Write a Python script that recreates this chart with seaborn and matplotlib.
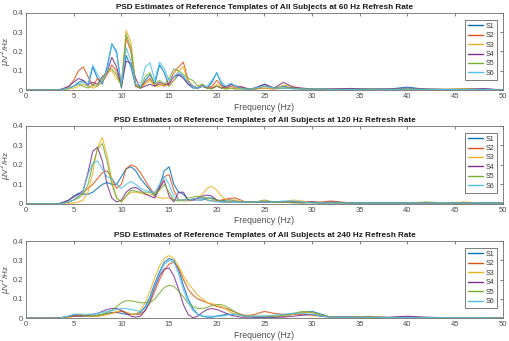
import numpy as np
import pandas as pd
import matplotlib
matplotlib.use("Agg")
import matplotlib.pyplot as plt
from matplotlib.lines import Line2D
import seaborn as sns

# ---------------------------------------------------
# Data
# ---------------------------------------------------
freq = [0, 3.0, 3.5, 4.0, 4.5, 5.0, 5.5, 6.0, 6.5, 7.0, 7.5, 8.0, 8.5, 9.0, 9.5,
        10.0, 10.5, 11.0, 11.5, 12.0, 12.5, 13.0, 13.5, 14.0, 14.5, 15.0, 15.5,
        16.0, 16.5, 17.0, 17.5, 18.0, 18.5, 19.0, 19.5, 20.0, 20.5, 21.0, 21.5,
        22.0, 22.5, 23.0, 23.5, 24.0, 25, 26, 27, 28, 29, 30, 31, 32, 34, 36, 38,
        40, 42, 44, 46, 48, 50]

subjects = ["S1", "S2", "S3", "S4", "S5", "S6"]
colors = ["#0072BD", "#D95319", "#EDB120", "#7E2F8E", "#77AC30", "#4DBEEE"]
refresh_rates = [60, 120, 240]
y_ticks = [0, 0.1, 0.2, 0.3, 0.4]
y_tick_labels = ["0", "0.1", "0.2", "0.3", "0.4"]
x_ticks = [0, 5, 10, 15, 20, 25, 30, 35, 40, 45, 50]

# 60 Hz refresh rate
s1_60 = [0, 0, 0, 0.005, 0.01, 0.02, 0.04, 0.05, 0.02, 0.12, 0.06, 0.03, 0.12, 0.24, 0.2,
         0.01, 0.18, 0.12, 0.02, 0.01, 0.05, 0.08, 0.03, 0.13, 0.09, 0.02, 0.05,
         0.08, 0.07, 0.03, 0.01, 0.01, 0.02, 0.01, 0.04, 0.09, 0.03, 0.01, 0.03,
         0.02, 0.01, 0.005, 0.005, 0.01, 0.03, 0.01, 0.02, 0.01, 0.005, 0.005, 0.005, 0.005, 0.005, 0.005, 0.005,
         0.015, 0.003, 0.002, 0.002, 0.005, 0]
s2_60 = [0, 0, 0, 0.005, 0.02, 0.05, 0.1, 0.12, 0.07, 0.02, 0.06, 0.04, 0.08, 0.13, 0.1,
         0.02, 0.27, 0.2, 0.02, 0.01, 0.04, 0.06, 0.02, 0.03, 0.02, 0.04, 0.09,
         0.12, 0.145, 0.05, 0.02, 0.01, 0.03, 0.01, 0.02, 0.05, 0.02, 0.01, 0.02,
         0.01, 0.02, 0.01, 0.005, 0.005, 0.01, 0.005, 0.01, 0.01, 0.005, 0.005, 0.005, 0.005, 0.008, 0.005, 0.005,
         0.005, 0.005, 0.003, 0.005, 0.003, 0]
s3_60 = [0, 0, 0, 0, 0.005, 0.01, 0.02, 0.03, 0.02, 0.01, 0.02, 0.05, 0.09, 0.1, 0.06,
         0.03, 0.31, 0.25, 0.03, 0.01, 0.03, 0.05, 0.02, 0.02, 0.03, 0.02, 0.05,
         0.1, 0.12, 0.04, 0.02, 0.01, 0.02, 0.01, 0.01, 0.03, 0.01, 0.005, 0.01,
         0.005, 0.01, 0.005, 0.005, 0.01, 0.01, 0.005, 0.025, 0.02, 0.005, 0.005, 0.003, 0.005, 0.003, 0.005, 0.003,
         0.003, 0.003, 0.003, 0.008, 0.003, 0]
s4_60 = [0, 0, 0.002, 0.01, 0.02, 0.04, 0.06, 0.05, 0.03, 0.04, 0.03, 0.07, 0.09, 0.17, 0.12,
         0.02, 0.15, 0.14, 0.06, 0.01, 0.02, 0.03, 0.02, 0.04, 0.03, 0.03, 0.07,
         0.08, 0.06, 0.03, 0.02, 0.01, 0.02, 0.01, 0.01, 0.02, 0.01, 0.02, 0.03,
         0.02, 0.015, 0.01, 0.005, 0.01, 0.03, 0.01, 0.04, 0.015, 0.01, 0.005, 0.005, 0.005, 0.008, 0.005, 0.005,
         0.01, 0.005, 0.003, 0.003, 0.008, 0]
s5_60 = [0, 0, 0, 0.005, 0.01, 0.02, 0.03, 0.02, 0.01, 0.03, 0.02, 0.06, 0.1, 0.11, 0.08,
         0.02, 0.29, 0.22, 0.03, 0.01, 0.07, 0.09, 0.03, 0.05, 0.03, 0.06, 0.11,
         0.1, 0.08, 0.06, 0.05, 0.02, 0.03, 0.01, 0.005, 0.02, 0.01, 0.005, 0.01,
         0.005, 0.005, 0.005, 0.005, 0.005, 0.02, 0.01, 0.01, 0.01, 0.005, 0.005, 0.005, 0.003, 0.003, 0.003, 0.003,
         0.005, 0.003, 0.003, 0.003, 0.003, 0]
s6_60 = [0, 0, 0, 0.005, 0.01, 0.02, 0.03, 0.04, 0.03, 0.13, 0.08, 0.04, 0.1, 0.24, 0.19,
         0.03, 0.22, 0.15, 0.03, 0.02, 0.12, 0.14, 0.05, 0.145, 0.11, 0.05, 0.07,
         0.09, 0.07, 0.04, 0.02, 0.01, 0.02, 0.02, 0.05, 0.09, 0.04, 0.02, 0.035,
         0.02, 0.01, 0.005, 0.005, 0.01, 0.02, 0.01, 0.01, 0.005, 0.005, 0.005, 0.005, 0.003, 0.003, 0.005, 0.003,
         0.005, 0.003, 0.003, 0.003, 0.003, 0]

# 120 Hz refresh rate
s1_120 = [0, 0, 0.002, 0.01, 0.02, 0.04, 0.055, 0.05, 0.05, 0.06, 0.08, 0.1, 0.11, 0.1, 0.1,
          0.14, 0.18, 0.19, 0.17, 0.13, 0.1, 0.07, 0.04, 0.09, 0.17, 0.19, 0.1,
          0.06, 0.05, 0.02, 0.02, 0.02, 0.02, 0.03, 0.03, 0.02, 0.015, 0.02, 0.02,
          0.015, 0.01, 0.01, 0.01, 0.01, 0.01, 0.01, 0.01, 0.01, 0.01, 0.01, 0.005, 0.005, 0.005, 0.005, 0.005,
          0.005, 0.005, 0.005, 0.005, 0.005, 0.005]
s2_120 = [0, 0, 0, 0.005, 0.01, 0.02, 0.04, 0.06, 0.08, 0.1, 0.13, 0.16, 0.17, 0.13, 0.08,
          0.1, 0.18, 0.2, 0.19, 0.16, 0.12, 0.08, 0.05, 0.08, 0.14, 0.15, 0.07,
          0.02, 0.02, 0.02, 0.025, 0.03, 0.03, 0.02, 0.015, 0.015, 0.02, 0.025, 0.03,
          0.03, 0.02, 0.01, 0.01, 0.01, 0.01, 0.01, 0.01, 0.01, 0.01, 0.01, 0.01, 0.015, 0.005, 0.005, 0.005,
          0.005, 0.005, 0.005, 0.005, 0.005, 0.005]
s3_120 = [0, 0, 0, 0, 0.002, 0.005, 0.01, 0.02, 0.06, 0.16, 0.29, 0.34, 0.25, 0.12, 0.03,
          0.01, 0.04, 0.06, 0.06, 0.055, 0.05, 0.05, 0.04, 0.03, 0.03, 0.03, 0.02,
          0.02, 0.015, 0.015, 0.02, 0.03, 0.05, 0.08, 0.09, 0.07, 0.04, 0.02, 0.02,
          0.02, 0.015, 0.01, 0.01, 0.01, 0.015, 0.01, 0.01, 0.02, 0.015, 0.005, 0.005, 0.005, 0.005, 0.005, 0.005,
          0.005, 0.005, 0.005, 0.01, 0.005, 0.005]
s4_120 = [0, 0, 0.002, 0.01, 0.02, 0.035, 0.05, 0.07, 0.16, 0.27, 0.29, 0.22, 0.1, 0.03, 0.01,
          0.02, 0.06, 0.08, 0.085, 0.07, 0.05, 0.04, 0.03, 0.08, 0.12, 0.04, 0.01,
          0.06, 0.06, 0.02, 0.02, 0.03, 0.04, 0.045, 0.04, 0.02, 0.01, 0.01, 0.01,
          0.01, 0.01, 0.01, 0.01, 0.01, 0.01, 0.01, 0.01, 0.01, 0.005, 0.01, 0.005, 0.01, 0.005, 0.005, 0.005,
          0.005, 0.005, 0.005, 0.005, 0.005, 0.005]
s5_120 = [0, 0, 0, 0.005, 0.01, 0.02, 0.03, 0.05, 0.1, 0.2, 0.28, 0.31, 0.22, 0.1, 0.03,
          0.01, 0.04, 0.07, 0.065, 0.06, 0.06, 0.06, 0.05, 0.07, 0.1, 0.06, 0.02,
          0.015, 0.02, 0.03, 0.035, 0.04, 0.035, 0.03, 0.025, 0.02, 0.015, 0.01, 0.01,
          0.01, 0.01, 0.01, 0.01, 0.01, 0.02, 0.01, 0.01, 0.005, 0.005, 0.005, 0.005, 0.005, 0.005, 0.005, 0.005,
          0.005, 0.01, 0.005, 0.005, 0.005, 0.005]
s6_120 = [0, 0, 0, 0.005, 0.01, 0.02, 0.04, 0.07, 0.15, 0.21, 0.22, 0.18, 0.14, 0.13, 0.1,
          0.08, 0.1, 0.115, 0.1, 0.08, 0.07, 0.06, 0.06, 0.1, 0.14, 0.1, 0.04,
          0.02, 0.02, 0.02, 0.025, 0.03, 0.03, 0.02, 0.015, 0.01, 0.01, 0.01, 0.01,
          0.01, 0.01, 0.01, 0.01, 0.01, 0.01, 0.01, 0.015, 0.015, 0.01, 0.005, 0.005, 0.005, 0.005, 0.005, 0.005,
          0.005, 0.005, 0.005, 0.005, 0.005, 0.005]

# 240 Hz refresh rate
s1_240 = [0, 0, 0, 0.005, 0.01, 0.015, 0.015, 0.01, 0.01, 0.01, 0.015, 0.02, 0.025, 0.03, 0.03,
          0.025, 0.02, 0.02, 0.02, 0.03, 0.06, 0.11, 0.18, 0.24, 0.29, 0.31, 0.3,
          0.25, 0.17, 0.1, 0.05, 0.02, 0.01, 0.005, 0.005, 0.01, 0.015, 0.02, 0.02,
          0.02, 0.015, 0.01, 0.01, 0.005, 0.005, 0.005, 0.01, 0.02, 0.03, 0.035, 0.02, 0.005, 0.005, 0.005, 0.003,
          0.005, 0.003, 0.002, 0.002, 0.002, 0]
s2_240 = [0, 0, 0, 0.002, 0.005, 0.01, 0.015, 0.015, 0.01, 0.01, 0.01, 0.015, 0.02, 0.025, 0.03,
          0.035, 0.03, 0.02, 0.02, 0.02, 0.04, 0.08, 0.14, 0.2, 0.25, 0.28, 0.29,
          0.26, 0.2, 0.15, 0.12, 0.1, 0.09, 0.08, 0.07, 0.06, 0.055, 0.05, 0.04,
          0.03, 0.02, 0.015, 0.015, 0.02, 0.035, 0.025, 0.02, 0.02, 0.02, 0.015, 0.01, 0.005, 0.005, 0.005, 0.003,
          0.005, 0.003, 0.002, 0.002, 0.002, 0]
s3_240 = [0, 0, 0, 0.002, 0.005, 0.01, 0.01, 0.01, 0.01, 0.01, 0.01, 0.015, 0.02, 0.025, 0.035,
          0.04, 0.03, 0.02, 0.02, 0.04, 0.08, 0.14, 0.21, 0.27, 0.31, 0.325, 0.31,
          0.27, 0.22, 0.18, 0.15, 0.12, 0.1, 0.08, 0.075, 0.07, 0.06, 0.045, 0.03,
          0.02, 0.015, 0.01, 0.01, 0.01, 0.01, 0.01, 0.01, 0.02, 0.03, 0.03, 0.015, 0.005, 0.005, 0.01, 0.003,
          0.003, 0.003, 0.002, 0.002, 0.002, 0]
s4_240 = [0, 0, 0.002, 0.005, 0.01, 0.01, 0.01, 0.01, 0.015, 0.02, 0.025, 0.035, 0.045, 0.05, 0.05,
          0.04, 0.025, 0.01, 0.005, 0.01, 0.04, 0.09, 0.16, 0.22, 0.255, 0.26, 0.22,
          0.15, 0.07, 0.02, 0.002, 0.01, 0.03, 0.045, 0.05, 0.045, 0.035, 0.025, 0.015,
          0.01, 0.005, 0.005, 0.005, 0.005, 0.005, 0.005, 0.005, 0.01, 0.015, 0.02, 0.01, 0.005, 0.005, 0.005, 0.005,
          0.01, 0.005, 0.002, 0.002, 0.002, 0]
s5_240 = [0, 0, 0, 0.005, 0.01, 0.02, 0.02, 0.015, 0.01, 0.01, 0.015, 0.02, 0.03, 0.04, 0.06,
          0.08, 0.09, 0.09, 0.085, 0.08, 0.08, 0.08, 0.1, 0.13, 0.16, 0.17, 0.165,
          0.14, 0.11, 0.08, 0.06, 0.05, 0.05, 0.055, 0.065, 0.07, 0.07, 0.06, 0.045,
          0.03, 0.02, 0.01, 0.01, 0.01, 0.01, 0.01, 0.015, 0.025, 0.035, 0.03, 0.015, 0.005, 0.005, 0.005, 0.003,
          0.003, 0.003, 0.002, 0.002, 0.002, 0]
s6_240 = [0, 0, 0, 0.005, 0.01, 0.02, 0.02, 0.02, 0.02, 0.02, 0.025, 0.03, 0.035, 0.04, 0.045,
          0.05, 0.05, 0.045, 0.04, 0.035, 0.05, 0.1, 0.17, 0.23, 0.28, 0.3, 0.29,
          0.23, 0.15, 0.08, 0.04, 0.02, 0.01, 0.01, 0.01, 0.01, 0.01, 0.015, 0.02,
          0.02, 0.015, 0.01, 0.01, 0.01, 0.01, 0.015, 0.02, 0.025, 0.025, 0.02, 0.01, 0.005, 0.005, 0.005, 0.003,
          0.003, 0.003, 0.002, 0.002, 0.002, 0]

psd_by_rate = {
    60: [s1_60, s2_60, s3_60, s4_60, s5_60, s6_60],
    120: [s1_120, s2_120, s3_120, s4_120, s5_120, s6_120],
    240: [s1_240, s2_240, s3_240, s4_240, s5_240, s6_240],
}

# ---------------------------------------------------
# Plot
# ---------------------------------------------------
sns.set_theme(style="white")
plt.rcParams['font.family'] = ['Liberation Sans', 'DejaVu Sans']

fig = plt.figure(figsize=(5.1, 3.41), dpi=100)
positions = [
    [0.051, 0.736, 0.935, 0.226],
    [0.051, 0.402, 0.935, 0.229],
    [0.051, 0.067, 0.935, 0.226],
]

for rate, pos in zip(refresh_rates, positions):
    ax = fig.add_axes(pos)
    for name, color, values in zip(subjects, colors, psd_by_rate[rate]):
        df = pd.DataFrame({"Frequency": freq, "PSD": values})
        sns.lineplot(data=df, x="Frequency", y="PSD", color=color,
                     linewidth=0.8, alpha=0.85, ax=ax, legend=False)

    ax.set_xlim(0, 50)
    ax.set_ylim(0, 0.4)
    ax.set_xticks(x_ticks)
    ax.set_yticks(y_ticks)
    ax.set_yticklabels(y_tick_labels)
    ax.tick_params(direction='in', top=True, right=True, length=2.5, width=0.5,
                   labelsize=5.5, colors='#4d4d4d', pad=2)
    for sp in ax.spines.values():
        sp.set_color('#6e6e6e')
        sp.set_linewidth(0.6)

    ax.set_title(f"PSD Estimates of Reference Templates of All Subjects at {rate} Hz Refresh Rate",
                 fontsize=5.9, fontweight='bold', color='#1a1a1a', pad=3)
    ax.set_xlabel("Frequency (Hz)", fontsize=6.2, color='#4d4d4d', labelpad=2)
    ax.set_ylabel(r"$\mu$V$^2$/Hz", fontsize=6, color='#4d4d4d')
    ax.yaxis.set_label_coords(-0.027, 0.5)

    handles = [Line2D([0], [0], color=c, linewidth=1.0) for c in colors]
    leg = ax.legend(handles, subjects, loc='upper right', bbox_to_anchor=(0.988, 0.91),
                    fontsize=5, frameon=True, fancybox=False, edgecolor='#404040',
                    handlelength=2.2, handletextpad=0.4, labelspacing=0.35,
                    borderpad=0.4, borderaxespad=0)
    leg.get_frame().set_linewidth(0.6)
    for t in leg.get_texts():
        t.set_color('#333333')

fig.savefig("out.png", dpi=100)
